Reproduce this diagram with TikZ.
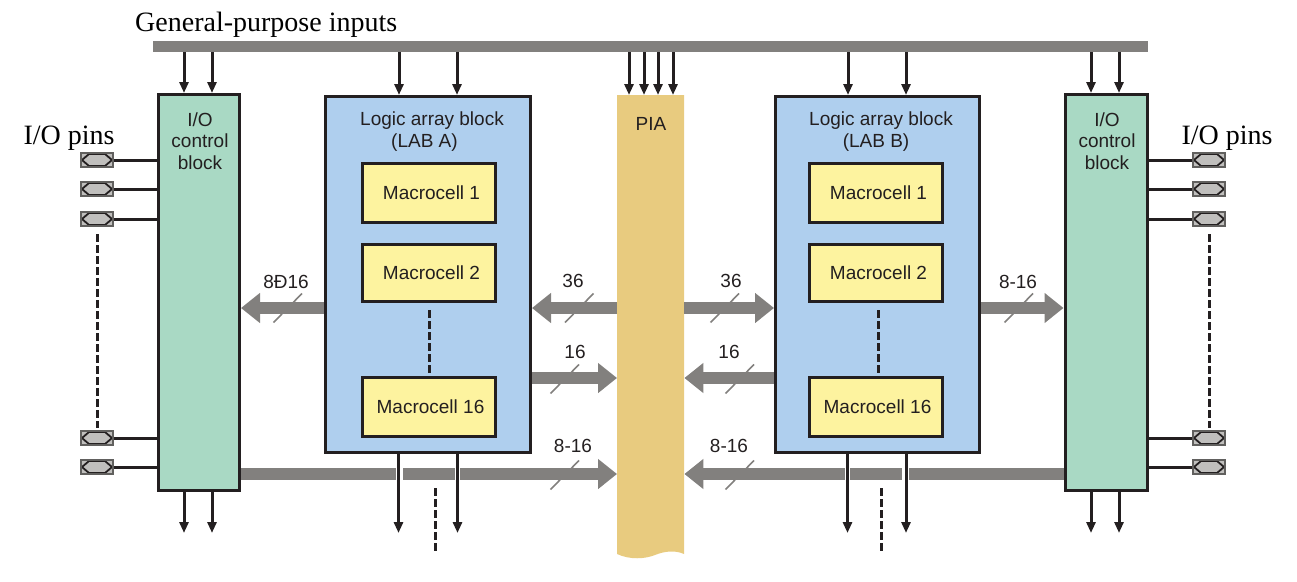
\documentclass[tikz,border=0pt]{standalone}
\usepackage{fontspec}
\setmainfont{Liberation Sans}
\newfontfamily\serifface{Liberation Serif}
\usetikzlibrary{arrows.meta}
\definecolor{inkc}{HTML}{231F20}
\definecolor{busc}{HTML}{82807E}
\definecolor{ioc}{HTML}{A9D9C4}
\definecolor{labc}{HTML}{AFCFEE}
\definecolor{cellc}{HTML}{FDF39F}
\definecolor{piac}{HTML}{E8CB7F}
\definecolor{pinc}{HTML}{C0BFBD}
\tikzset{
  x=1pt,y=-1pt,
  boxbase/.style={draw=inkc,line width=3pt,inner sep=0pt,anchor=north west,align=center,text=inkc},
  iobox/.style={boxbase,fill=ioc,minimum width=81pt,minimum height=396pt},
  labbox/.style={boxbase,fill=labc,minimum width=205pt,minimum height=356pt},
  cellbox/.style={boxbase,fill=cellc,minimum width=133pt,minimum height=59pt,font=\fontsize{19}{22}\selectfont},
  lbl/.style={text=inkc,font=\fontsize{19}{22}\selectfont,inner sep=0pt,align=center},
  numlbl/.style={text=inkc,font=\fontsize{19}{22}\selectfont,inner sep=0pt},
  serlbl/.style={text=black,font=\serifface\fontsize{28}{30}\selectfont,inner sep=0pt},
  thin arrow/.style={draw=inkc,line width=3pt,-{Triangle[length=11pt,width=9pt]}},
  fat arrow/.style={draw=busc,line width=12pt,-{Triangle[length=19pt,width=29pt]}},
  gap/.style={draw=white,line width=#1},
  slash/.style={draw=busc,line width=1.6pt},
  dash line/.style={draw=inkc,line width=3pt,dash pattern=on 8pt off 3pt},
  wire/.style={draw=inkc,line width=3pt},
  pinbox/.style={draw=busc!75!black,line width=2pt,fill=pinc,minimum width=32pt,minimum height=14pt,inner sep=0pt,
    path picture={
      \draw[inkc,line width=1.8pt]
        ([xshift=8pt,yshift=-1pt]path picture bounding box.north west)
          -- ([xshift=1pt]path picture bounding box.west)
          -- ([xshift=8pt,yshift=1pt]path picture bounding box.south west)
          -- ([xshift=-8pt,yshift=1pt]path picture bounding box.south east)
          -- ([xshift=-1pt]path picture bounding box.east)
          -- ([xshift=-8pt,yshift=-1pt]path picture bounding box.north east)
          -- cycle;
    }},
}
\begin{document}
\begin{tikzpicture}
\path[use as bounding box] (0,0) rectangle (1297,581);

% PIA
\fill[piac] (617,95) -- (684,95) -- (684,554) .. controls (675,550) and (665,551) .. (655,555) .. controls (645,559) and (630,560) .. (617,554) -- cycle;
\node[inner sep=0pt,minimum width=67pt,minimum height=459pt,anchor=north west] (pia) at (617,95) {};
\node[lbl] (pialbl) at (651,124) {PIA};

% Global bus
\node[fill=busc,minimum width=995pt,minimum height=11pt,inner sep=0pt,anchor=north west] (bus) at (153,41) {};
\node[serlbl,anchor=west] (gpi) at (135,25) {General-purpose inputs};

% Blocks
\node[iobox] (ioa) at (157,93) {};
\node[iobox,minimum width=82pt] (iob) at (1063.5,93) {};
\node[lbl] (ioalbl) at (200,141) {I/O\\[-0.5pt]control\\[-0.5pt]block};
\node[lbl] (ioblbl) at (1107,141) {I/O\\[-0.5pt]control\\[-0.5pt]block};
\node[labbox] (laba) at (324,95) {};
\node[labbox,minimum width=204pt] (labb) at (774,95) {};
\node[lbl] (labalbl) at (432,132) {Logic array block\\(LAB A)\hspace*{15pt}};
\node[lbl] (labblbl) at (881,132) {Logic array block\\(LAB B)\hspace*{10pt}};

% Macrocells
\node[cellbox] (a1) at (361,162) {\hspace*{5pt}Macrocell 1};
\node[cellbox,minimum height=57pt] (a2) at (361,243) {\hspace*{5pt}Macrocell 2};
\node[cellbox] (a16) at (361,376) {\hspace*{3pt}Macrocell 16};
\node[cellbox] (b1) at (808,162) {\hspace*{5pt}Macrocell 1};
\node[cellbox,minimum height=57pt] (b2) at (808,243) {\hspace*{5pt}Macrocell 2};
\node[cellbox] (b16) at (808,376) {\hspace*{3pt}Macrocell 16};
\draw[dash line] ([yshift=-7pt]a2.south -| 429,0) -- ([yshift=3pt]a16.north -| 429,0);
\draw[dash line] ([yshift=-7pt]b2.south -| 878,0) -- ([yshift=3pt]b16.north -| 878,0);

% Inputs from the bus
\foreach \xx in {184,212}
  \draw[thin arrow] (\xx,0 |- bus.south) -- (\xx,0 |- ioa.north);
\foreach \xx in {399,457}
  \draw[thin arrow] (\xx,0 |- bus.south) -- (\xx,0 |- laba.north);
\foreach \xx in {629,644,658,673}
  \draw[thin arrow] (\xx,0 |- bus.south) -- (\xx,0 |- pia.north);
\foreach \xx in {848,906}
  \draw[thin arrow] (\xx,0 |- bus.south) -- (\xx,0 |- labb.north);
\foreach \xx in {1091,1119}
  \draw[thin arrow] (\xx,0 |- bus.south) -- (\xx,0 |- iob.north);

% Fat arrows
\draw[fat arrow] (laba.west |- 0,308) -- (ioa.east |- 0,308);
\draw[fat arrow] (pia.west |- 0,308) -- (laba.east |- 0,308);
\draw[fat arrow] (pia.east |- 0,308) -- (labb.west |- 0,308);
\draw[fat arrow] (labb.east |- 0,308) -- (iob.west |- 0,308);
\draw[fat arrow] (laba.east |- 0,378) -- (pia.west |- 0,378);
\draw[fat arrow] (labb.west |- 0,378) -- (pia.east |- 0,378);
\draw[fat arrow] (ioa.east |- 0,474) -- (pia.west |- 0,474);
\draw[fat arrow] (iob.west |- 0,474) -- (pia.east |- 0,474);

% Slashes
\foreach \cx/\cy in {288/308,579.5/308,725/308,1019/308,565/379,740/379,565/475,740/475}
  \draw[slash] (\cx-14.5,\cy+14.5) -- (\cx+14,\cy-14.5);

% Width labels
\node[numlbl] (w1) at (286,282) {8Ð16};
\node[numlbl] (w2) at (573,281) {36};
\node[numlbl] (w3) at (731,281) {36};
\node[numlbl] (w4) at (1018,282) {8-16};
\node[numlbl] (w5) at (575,352) {16};
\node[numlbl] (w6) at (729,352) {16};
\node[numlbl] (w7) at (573,446) {8-16};
\node[numlbl] (w8) at (729,446) {8-16};

% Gaps in the bottom buses where the outputs cross
\foreach \xx/\ww in {399.5/7,457.5/5,847.5/5,905.5/7}
  \draw[gap=\ww pt] (\xx,467) -- (\xx,481);
\coordinate (oa) at (0,533);
\foreach \xx in {398.5,457.5}
  \draw[thin arrow] (\xx,0 |- laba.south) -- (\xx,0 |- oa);
\foreach \xx in {847.5,906}
  \draw[thin arrow] (\xx,0 |- labb.south) -- (\xx,0 |- oa);
\foreach \xx in {184,212}
  \draw[thin arrow] (\xx,0 |- ioa.south) -- (\xx,0 |- oa);
\foreach \xx in {1091,1119}
  \draw[thin arrow] (\xx,0 |- iob.south) -- (\xx,0 |- oa);
\coordinate (d1) at (435,488); \coordinate (d2) at (435,551);
\coordinate (d3) at (881,488); \coordinate (d4) at (881,551);
\draw[dash line] (d1) -- (d2);
\draw[dash line] (d3) -- (d4);

% Pins
\node[serlbl] (pl) at (69,138) {I/O pins};
\node[serlbl] (pr) at (1227,138) {I/O pins};
\foreach \nn/\yy in {1/160,2/189,3/219,4/438,5/467}{
  \node[pinbox] (pa\nn) at (97,\yy) {};
  \node[pinbox] (pb\nn) at (1209,\yy) {};
  \draw[wire] (pa\nn.east) -- (ioa.west |- pa\nn.east);
  \draw[wire] (pb\nn.west) -- (iob.east |- pb\nn.west);
}
\draw[dash line] ([yshift=-7pt]pa3.south) -- ([yshift=2pt]pa4.north);
\draw[dash line] ([yshift=-7pt]pb3.south) -- ([yshift=2pt]pb4.north);
\end{tikzpicture}
\end{document}
